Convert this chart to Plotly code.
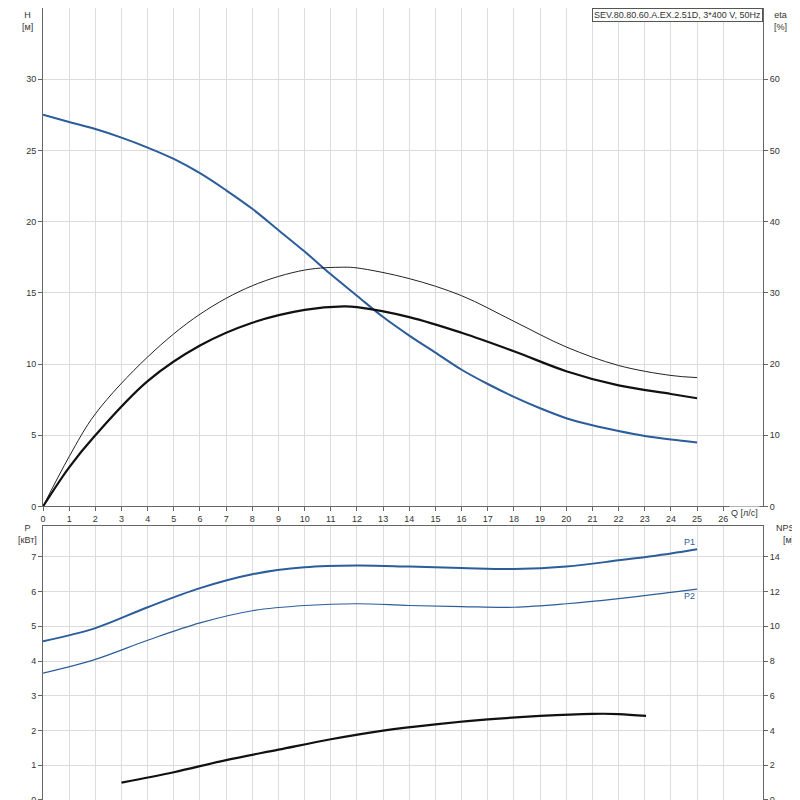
import plotly.graph_objects as go

Q = [0, 1, 2, 3, 4, 5, 6, 7, 8, 9, 10, 11, 12, 13, 14, 15, 16, 17, 18, 19, 20, 21, 22, 23, 24, 25]
H = [27.5, 27.0, 26.5, 25.9, 25.2, 24.4, 23.4, 22.2, 20.9, 19.4, 17.9, 16.3, 14.8, 13.3, 12.0, 10.8, 9.6, 8.6, 7.7, 6.9, 6.2, 5.7, 5.3, 4.95, 4.7, 4.5]
Qe = [0, 1, 2, 4, 6, 8, 10, 11.5, 12, 14, 16, 18, 20, 22, 24, 25]
eta_thin = [0, 7, 13, 21, 27, 31, 33.2, 33.6, 33.5, 32, 29.6, 26, 22.4, 19.8, 18.4, 18.1]
eta_thick = [0, 5.5, 10, 17.6, 22.6, 25.8, 27.6, 28.1, 28, 26.6, 24.4, 21.8, 19, 17, 15.8, 15.2]
Qp = [0, 2, 4, 6, 8, 10, 12, 14, 16, 18, 20, 22, 24, 25]
P1 = [4.57, 4.95, 5.55, 6.1, 6.5, 6.7, 6.75, 6.72, 6.68, 6.65, 6.72, 6.9, 7.1, 7.22]
P2 = [3.65, 4.05, 4.6, 5.1, 5.45, 5.6, 5.65, 5.6, 5.57, 5.55, 5.65, 5.8, 5.98, 6.07]
Qn = [3, 5, 7, 9, 11, 13, 15, 17, 19, 21, 22, 23.05]
NPSH = [1.0, 1.6, 2.3, 2.9, 3.5, 4.0, 4.36, 4.64, 4.84, 4.96, 4.95, 4.84]
title_text = "SEV.80.80.60.A.EX.2.51D, 3*400 V, 50Hz"

blue = "#2b5d9a"
fig = go.Figure()
sp = dict(shape="spline", smoothing=1.0)
fig.add_trace(go.Scatter(x=Q, y=H, mode="lines", line=dict(color=blue, width=2, **sp), xaxis="x", yaxis="y"))
fig.add_trace(go.Scatter(x=Qe, y=eta_thin, mode="lines", line=dict(color="#222", width=1, **sp), xaxis="x", yaxis="y2"))
fig.add_trace(go.Scatter(x=Qe, y=eta_thick, mode="lines", line=dict(color="#111", width=2.2, **sp), xaxis="x", yaxis="y2"))
fig.add_trace(go.Scatter(x=Qp, y=P1, mode="lines", line=dict(color=blue, width=2, **sp), xaxis="x2", yaxis="y3"))
fig.add_trace(go.Scatter(x=Qp, y=P2, mode="lines", line=dict(color=blue, width=1.2, **sp), xaxis="x2", yaxis="y3"))
fig.add_trace(go.Scatter(x=Qn, y=NPSH, mode="lines", line=dict(color="#111", width=2.2, **sp), xaxis="x2", yaxis="y4"))

ax = dict(showgrid=True, gridcolor="#dcdcdc", gridwidth=1, zeroline=False, showline=True,
          linecolor="#666", linewidth=1, tickfont=dict(size=9, color="#333"), ticks="outside",
          ticklen=4, tickcolor="#666", automargin=False)
xr = [0, 27.52]
fig.update_layout(
    width=800, height=800, showlegend=False, plot_bgcolor="white", paper_bgcolor="white",
    margin=dict(l=35, r=45, t=0, b=8),
    font=dict(family="Liberation Sans, Arial", size=9, color="#333"),
    xaxis=dict(ax, range=xr, domain=[0, 1], anchor="y", tickvals=list(range(27)), mirror=True),
    yaxis=dict(ax, range=[0, 35], domain=[0.3706, 1], anchor="x", tickvals=[0, 5, 10, 15, 20, 25, 30]),
    yaxis2=dict(ax, range=[0, 70], overlaying="y", side="right", anchor="x", showgrid=False,
                tickvals=[0, 10, 20, 30, 40, 50, 60]),
    xaxis2=dict(ax, range=xr, domain=[0, 1], anchor="y3", tickvals=list(range(27)), showticklabels=False, mirror=True),
    yaxis3=dict(ax, range=[0, 7.89], domain=[0, 0.3460], anchor="x2", tickvals=[0, 1, 2, 3, 4, 5, 6, 7]),
    yaxis4=dict(ax, range=[0, 15.78], overlaying="y3", side="right", anchor="x2", showgrid=False,
                tickvals=[0, 2, 4, 6, 8, 10, 12, 14]),
)
ann = [
    dict(text="H<br>[м]", x=-0.022, y=1.0, xref="paper", yref="paper", xanchor="center", yanchor="top", showarrow=False),
    dict(text="eta<br>[%]", x=1.025, y=1.0, xref="paper", yref="paper", xanchor="center", yanchor="top", showarrow=False),
    dict(text="P<br>[кВт]", x=-0.022, y=0.352, xref="paper", yref="paper", xanchor="center", yanchor="top", showarrow=False),
    dict(text="NPSH<br>[м]", x=1.035, y=0.352, xref="paper", yref="paper", xanchor="center", yanchor="top", showarrow=False),
    dict(text="Q [л/с]", x=27.4, y=0.3706, xref="x", yref="paper", xanchor="right", yanchor="top",
         showarrow=False, bgcolor="white"),
    dict(text=title_text, x=1, y=1, xref="paper", yref="paper", xanchor="right", yanchor="top", showarrow=False,
         bordercolor="#555", borderwidth=1, bgcolor="white", borderpad=1),
    dict(text="P1", x=25, y=P1[-1], xref="x2", yref="y3", xanchor="right", yanchor="bottom", showarrow=False,
         font=dict(color=blue)),
    dict(text="P2", x=25, y=P2[-1], xref="x2", yref="y3", xanchor="right", yanchor="top", showarrow=False,
         font=dict(color=blue)),
]
fig.update_layout(annotations=ann)
fig.write_html("out.html")
